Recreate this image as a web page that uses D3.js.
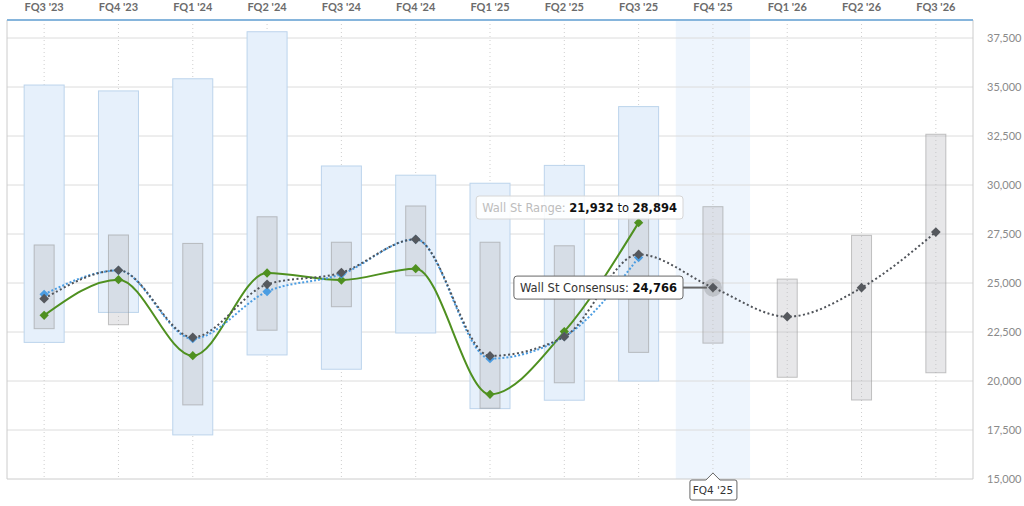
<!DOCTYPE html>
<html>
<head>
<meta charset="utf-8">
<script src="https://cdn.jsdelivr.net/npm/d3@7/dist/d3.min.js"></script>
<style>
  html, body { margin: 0; padding: 0; background: #fff; }
  svg { display: block; }
</style>
</head>
<body>
<svg id="chart" width="1024" height="506"></svg>
<script>
// ---- data ----
const categories = ["FQ3 '23", "FQ4 '23", "FQ1 '24", "FQ2 '24", "FQ3 '24", "FQ4 '24", "FQ1 '25", "FQ2 '25", "FQ3 '25", "FQ4 '25", "FQ1 '26", "FQ2 '26", "FQ3 '26"];
// Estimize range (light blue wide boxes), reported quarters only
const estimizeHigh = [35100, 34800, 35420, 37820, 30970, 30500, 30090, 31000, 34000];
const estimizeLow  = [21970, 23500, 17250, 21330, 20600, 22450, 18590, 19020, 20000];
// Wall St range (grey narrow boxes)
const wallStHigh = [26940, 27450, 27020, 28380, 27080, 28930, 27080, 26900, 28600, 28894, 25200, 27430, 32590];
const wallStLow  = [22670, 22870, 18780, 22590, 23790, 25370, 18610, 19910, 21460, 21932, 20190, 19030, 20420];
// series
const actual    = [23350, 25170, 21290, 25510, 25150, 25730, 19320, 22520, 28080];
const estimize  = [24420, 25640, 22160, 24560, 25450, 27230, 21140, 22260, 26300];
const consensus = [24200, 25650, 22230, 24930, 25530, 27230, 21280, 22260, 26460, 24766, 23280, 24760, 27600];
const yTicks = [15000, 17500, 20000, 22500, 25000, 27500, 30000, 32500, 35000, 37500];
const highlighted = "FQ4 '25";
const rangeTip = { label: "Wall St Range: ", low: "21,932", mid: " to ", high: "28,894" };
const consensusTip = { label: "Wall St Consensus: ", value: "24,766" };

(function draw() {
// ---- layout ----
const svg = d3.select("#chart");
const pLeft = 7, pRight = 973, pTop = 20, pBottom = 479;
const x = d3.scaleBand().domain(categories).range([pLeft, pRight]);
const y = d3.scaleLinear().domain([15000, 37500]).range([479, 38]);
const cx = c => x(c) + x.bandwidth() / 2;
const fmt = d3.format(",");

// highlight band
svg.append("rect")
  .attr("x", x(highlighted)).attr("y", pTop)
  .attr("width", x.bandwidth()).attr("height", pBottom - pTop)
  .attr("fill", "#eef5fd");

// horizontal gridlines
svg.append("g").selectAll("line").data(yTicks.slice(1)).join("line")
  .attr("x1", pLeft).attr("x2", pRight)
  .attr("y1", d => y(d)).attr("y2", d => y(d))
  .attr("stroke", "#dcdcdc").attr("stroke-width", 1);

// vertical dotted gridlines
svg.append("g").selectAll("line").data(categories).join("line")
  .attr("x1", d => cx(d)).attr("x2", d => cx(d))
  .attr("y1", pTop).attr("y2", pBottom)
  .attr("stroke", "#cfcfcf").attr("stroke-width", 1).attr("stroke-dasharray", "1,3");

// borders
svg.append("line").attr("x1", pLeft).attr("x2", pLeft).attr("y1", pTop).attr("y2", pBottom).attr("stroke", "#cccccc");
svg.append("line").attr("x1", pRight).attr("x2", pRight).attr("y1", pTop).attr("y2", pBottom).attr("stroke", "#cccccc");
svg.append("line").attr("x1", pLeft).attr("x2", pRight).attr("y1", pBottom).attr("y2", pBottom).attr("stroke", "#cccccc");
svg.append("line").attr("x1", pLeft).attr("x2", pRight).attr("y1", pTop).attr("y2", pTop).attr("stroke", "#86b5dc").attr("stroke-width", 2);

// top category labels
svg.append("g").selectAll("text").data(categories).join("text")
  .attr("x", d => cx(d)).attr("y", 11)
  .attr("text-anchor", "middle")
  .attr("font-family", "Lato, 'Open Sans', sans-serif").attr("font-weight", 700)
  .attr("font-size", 11).attr("fill", "#6b6b6b")
  .text(d => d);

// right y-axis labels
svg.append("g").selectAll("text").data(yTicks).join("text")
  .attr("x", 987).attr("y", d => y(d) + 4)
  .attr("font-family", "Lato, 'Open Sans', sans-serif")
  .attr("font-size", 11).attr("fill", "#8a8a8a")
  .text(d => fmt(d));

// estimize range boxes
const bw = 40, gw = 20;
svg.append("g").selectAll("rect").data(estimizeHigh).join("rect")
  .attr("x", (d, i) => cx(categories[i]) - bw / 2)
  .attr("y", d => y(d))
  .attr("width", bw)
  .attr("height", (d, i) => y(estimizeLow[i]) - y(d))
  .attr("fill", "#e6f0fb").attr("stroke", "#bcd4ec").attr("stroke-width", 1);

// wall st range boxes
svg.append("g").selectAll("rect").data(wallStHigh).join("rect")
  .attr("x", (d, i) => cx(categories[i]) - gw / 2)
  .attr("y", d => y(d))
  .attr("width", gw)
  .attr("height", (d, i) => y(wallStLow[i]) - y(d))
  .attr("fill", "rgba(185,185,190,0.34)").attr("stroke", "rgba(150,150,150,0.55)").attr("stroke-width", 1);

// lines
const line = d3.line().x(d => cx(d.c)).y(d => y(d.v)).curve(d3.curveMonotoneX);
const toPts = arr => arr.map((v, i) => ({ c: categories[i], v }));

svg.append("path").datum(toPts(actual)).attr("d", line)
  .attr("fill", "none").attr("stroke", "#4f9020").attr("stroke-width", 2);
svg.append("path").datum(toPts(estimize)).attr("d", line)
  .attr("fill", "none").attr("stroke", "#4b9de2").attr("stroke-width", 2).attr("stroke-dasharray", "2,2");
svg.append("path").datum(toPts(consensus)).attr("d", line)
  .attr("fill", "none").attr("stroke", "#4f5359").attr("stroke-width", 2).attr("stroke-dasharray", "2,2.5");

const diamond = d3.symbol().type(d3.symbolDiamond2);
function markers(arr, color, size) {
  svg.append("g").selectAll("path").data(toPts(arr)).join("path")
    .attr("transform", d => `translate(${cx(d.c)},${y(d.v)})`)
    .attr("d", diamond.size(size)())
    .attr("fill", color);
}
markers(actual, "#4f9020", 55);
markers(estimize, "#4b9de2", 55);

// halo on highlighted consensus
const hi = categories.indexOf(highlighted);
svg.append("circle").attr("cx", cx(highlighted)).attr("cy", y(consensus[hi])).attr("r", 9)
  .attr("fill", "rgba(90,90,90,0.22)");
markers(consensus, "#55585d", 60);

// ---- tooltips ----
const tipFont = "'DejaVu Sans', 'Liberation Sans', sans-serif";
const tipSize = 11.5;
// range tooltip
{
  const g = svg.append("g");
  const rx = 683, cyy = 207.5;
  const bg = g.append("rect");
  const t = g.append("text").attr("font-family", tipFont).attr("font-size", tipSize).attr("y", cyy + 4.5);
  t.append("tspan").attr("fill", "#bdbdbd").text(rangeTip.label);
  t.append("tspan").attr("fill", "#111").attr("font-weight", 700).text(rangeTip.low);
  t.append("tspan").attr("fill", "#111").text(rangeTip.mid);
  t.append("tspan").attr("fill", "#111").attr("font-weight", 700).text(rangeTip.high);
  const w = t.node().getComputedTextLength();
  t.attr("x", rx - 6 - w);
  bg.attr("x", rx - w - 12).attr("y", cyy - 11.5).attr("width", w + 12).attr("height", 23)
    .attr("rx", 3).attr("fill", "rgba(255,255,255,0.88)").attr("stroke", "#d6d6d6");
}

// consensus tooltip
{
  const g = svg.append("g");
  const rx = 683, cyy = y(consensus[hi]);
  g.append("line").attr("x1", rx).attr("x2", cx(highlighted) - 6).attr("y1", cyy).attr("y2", cyy)
    .attr("stroke", "#666").attr("stroke-width", 2);
  const bg = g.append("rect");
  const t = g.append("text").attr("font-family", tipFont).attr("font-size", tipSize).attr("y", cyy + 4.5);
  t.append("tspan").attr("fill", "#333").text(consensusTip.label);
  t.append("tspan").attr("fill", "#111").attr("font-weight", 700).text(consensusTip.value);
  const w = t.node().getComputedTextLength();
  t.attr("x", rx - 6 - w);
  bg.attr("x", rx - w - 12).attr("y", cyy - 11.5).attr("width", w + 12).attr("height", 23)
    .attr("rx", 3).attr("fill", "#fff").attr("stroke", "#666").attr("stroke-width", 1);
  t.raise();
}

// bottom category label
{
  const g = svg.append("g");
  const mx = cx(highlighted);
  const bx0 = mx - 23, bx1 = mx + 24, by0 = 480, by1 = 500;
  const p = d3.path();
  p.moveTo(bx0 + 2, by0);
  p.lineTo(mx - 7, by0); p.lineTo(mx, by0 - 7); p.lineTo(mx + 7, by0);
  p.lineTo(bx1 - 2, by0); p.quadraticCurveTo(bx1, by0, bx1, by0 + 2);
  p.lineTo(bx1, by1 - 2); p.quadraticCurveTo(bx1, by1, bx1 - 2, by1);
  p.lineTo(bx0 + 2, by1); p.quadraticCurveTo(bx0, by1, bx0, by1 - 2);
  p.lineTo(bx0, by0 + 2); p.quadraticCurveTo(bx0, by0, bx0 + 2, by0);
  p.closePath();
  g.append("path").attr("d", p.toString()).attr("fill", "#fff").attr("stroke", "#666");
  g.append("text").attr("x", mx).attr("y", by0 + 14).attr("text-anchor", "middle")
    .attr("font-family", tipFont).attr("font-size", 10.5).attr("fill", "#333").text(highlighted);
}
})();
</script>
</body>
</html>
